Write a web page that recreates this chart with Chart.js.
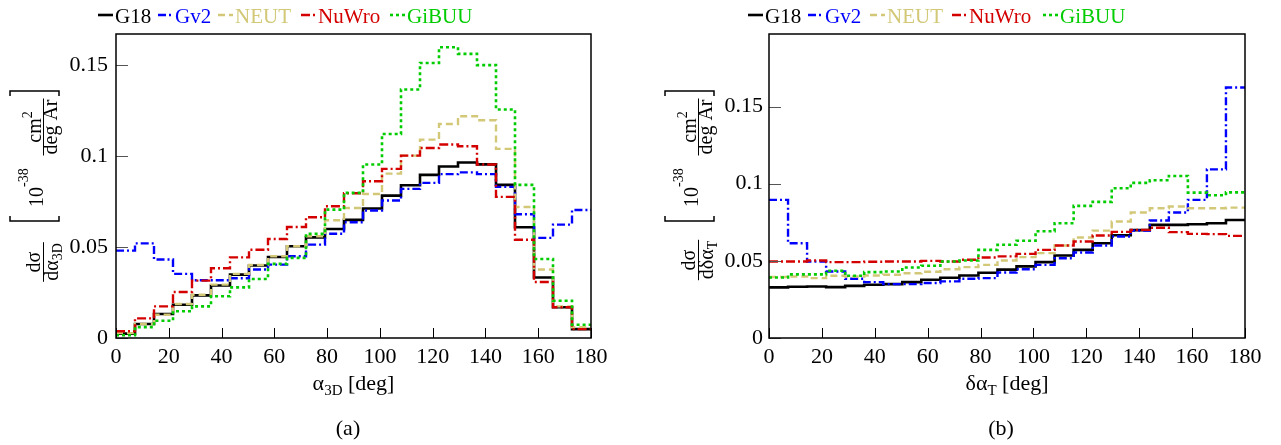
<!DOCTYPE html>
<html>
<head>
<meta charset="utf-8">
<script src="https://cdn.jsdelivr.net/npm/chart.js@4.4.1/dist/chart.umd.min.js"></script>
<style>
    html, body { margin: 0; padding: 0; background: #fff; }
    #wrap { position: relative; width: 1281px; height: 445px; overflow: hidden; }
    canvas { position: absolute; top: 0; }
</style>
</head>
<body>
<div id="wrap">
    <canvas id="chart-a" width="640" height="445" style="left:0"></canvas>
    <canvas id="chart-b" width="641" height="445" style="left:640px"></canvas>
</div>
<script>
// bin edges (deg), 25 bins of 7.2 deg
const binEdges = [0, 7.2, 14.4, 21.6, 28.8, 36, 43.2, 50.4, 57.6, 64.8, 72, 79.2, 86.4,
    93.6, 100.8, 108, 115.2, 122.4, 129.6, 136.8, 144, 151.2, 158.4, 165.6, 172.8, 180];
const xTicks = [0, 20, 40, 60, 80, 100, 120, 140, 160, 180];
const yTicks = [0, 0.05, 0.1, 0.15];
const generators = ["G18", "Gv2", "NEUT", "NuWro", "GiBUU"];

// panel (a): alpha_3D
const alpha3dG18 = [0.0024, 0.0077, 0.0132, 0.0183, 0.0234, 0.0288, 0.0348, 0.0398, 0.0445, 0.0504, 0.0553, 0.0599, 0.0649,
    0.0711, 0.0782, 0.0839, 0.0896, 0.0942, 0.0964, 0.0954, 0.0841, 0.0608, 0.0332, 0.0169, 0.0049];
const alpha3dGv2 = [0.0480, 0.0520, 0.0431, 0.0352, 0.0317, 0.0317, 0.0328, 0.0376, 0.0403, 0.0449, 0.0513, 0.0573, 0.0636,
    0.0700, 0.0755, 0.0819, 0.0852, 0.0900, 0.0910, 0.0900, 0.0830, 0.0680, 0.0550, 0.0623, 0.0703];
const alpha3dNEUT = [0.0027, 0.0077, 0.0128, 0.0187, 0.0238, 0.0293, 0.0352, 0.0401, 0.0449, 0.0504, 0.0559, 0.0647, 0.0714,
    0.0791, 0.0903, 0.1002, 0.1090, 0.1176, 0.1218, 0.1196, 0.1039, 0.0720, 0.0376, 0.0174, 0.0059];
const alpha3dNuWro = [0.0037, 0.0108, 0.0174, 0.0253, 0.0315, 0.0383, 0.0443, 0.0485, 0.0544, 0.0610, 0.0663, 0.0724, 0.0795,
    0.0861, 0.0929, 0.1002, 0.1044, 0.1063, 0.1053, 0.0953, 0.0775, 0.0540, 0.0308, 0.0169, 0.0049];
const alpha3dGiBUU = [0.0015, 0.0060, 0.0095, 0.0147, 0.0174, 0.0229, 0.0278, 0.0324, 0.0407, 0.0440, 0.0572, 0.0705, 0.0797,
    0.0953, 0.1121, 0.1365, 0.1511, 0.1597, 0.1561, 0.1499, 0.1255, 0.0841, 0.0434, 0.0205, 0.0073];

// panel (b): delta alpha_T
const dalphaTG18 = [0.0328, 0.0332, 0.0334, 0.0330, 0.0338, 0.0345, 0.0349, 0.0362, 0.0377, 0.0390, 0.0405, 0.0423, 0.0443,
    0.0464, 0.0492, 0.0535, 0.0571, 0.0614, 0.0666, 0.0699, 0.0733, 0.0733, 0.0737, 0.0744, 0.0765];
const dalphaTGv2 = [0.0895, 0.0614, 0.0496, 0.0431, 0.0384, 0.0362, 0.0349, 0.0349, 0.0356, 0.0367, 0.0384, 0.0388, 0.0424,
    0.0446, 0.0474, 0.0517, 0.0554, 0.0599, 0.0658, 0.0696, 0.0761, 0.0813, 0.0895, 0.1093, 0.1623];
const dalphaTNEUT = [0.0395, 0.0399, 0.0388, 0.0403, 0.0399, 0.0405, 0.0410, 0.0420, 0.0429, 0.0446, 0.0459, 0.0474, 0.0502,
    0.0524, 0.0550, 0.0599, 0.0651, 0.0696, 0.0755, 0.0813, 0.0841, 0.0852, 0.0841, 0.0841, 0.0845];
const dalphaTNuWro = [0.0496, 0.0496, 0.0502, 0.0492, 0.0492, 0.0494, 0.0496, 0.0496, 0.0500, 0.0496, 0.0507, 0.0522, 0.0529,
    0.0545, 0.0571, 0.0599, 0.0625, 0.0664, 0.0688, 0.0701, 0.0714, 0.0686, 0.0675, 0.0673, 0.0662];
const dalphaTGiBUU = [0.0392, 0.0412, 0.0412, 0.0436, 0.0403, 0.0427, 0.0431, 0.0457, 0.0468, 0.0496, 0.0502, 0.0571, 0.0604,
    0.0630, 0.0692, 0.0744, 0.0856, 0.0882, 0.0970, 0.1005, 0.1022, 0.1050, 0.0942, 0.0925, 0.0944];

const serif = "'Liberation Serif', 'Times New Roman', serif";
const lineStyles = {
    G18:   { color: "#000000", dash: [],           width: 2.6 },
    Gv2:   { color: "#0000ff", dash: [8, 3, 2, 3], width: 2.4 },
    NEUT:  { color: "#d2c878", dash: [7, 4],       width: 2.4 },
    NuWro: { color: "#d40000", dash: [9, 3, 2, 3], width: 2.4 },
    GiBUU: { color: "#00cc00", dash: [3, 3],       width: 2.6 }
};

function histPoints(values) {
    // step histogram: one point per left bin edge, plus the closing edge
    const pts = values.map((v, i) => ({ x: binEdges[i], y: v }));
    pts.push({ x: binEdges[binEdges.length - 1], y: values[values.length - 1] });
    return pts;
}

function rotText(ctx, text, size, bx, sy, align) {
    // text rotated -90deg, baseline at screen x = bx, anchored at screen y = sy
    ctx.save();
    ctx.translate(bx, sy);
    ctx.rotate(-Math.PI / 2);
    ctx.font = size + "px " + serif;
    ctx.textAlign = align;
    ctx.textBaseline = "alphabetic";
    ctx.fillText(text, 0, 0);
    ctx.restore();
}

function textWidth(ctx, text, size) {
    ctx.font = size + "px " + serif;
    return ctx.measureText(text).width;
}

function drawYTitle(ctx, ox, fracY, denMain, denSub) {
    ctx.fillStyle = "#000";
    ctx.strokeStyle = "#000";
    ctx.lineWidth = 1;
    // dsigma / d..
    rotText(ctx, "d\u03c3", 20, ox + 40, fracY, "center");
    const wMain = textWidth(ctx, denMain, 20), wSub = textWidth(ctx, denSub, 14);
    const start = fracY + (wMain + wSub) / 2;
    rotText(ctx, denMain, 20, ox + 58, start, "left");
    rotText(ctx, denSub, 14, ox + 62, start - wMain, "left");
    const half = Math.max(wMain + wSub, 24) / 2 + 1;
    ctx.beginPath();
    ctx.moveTo(ox + 43.5, fracY - half);
    ctx.lineTo(ox + 43.5, fracY + half);
    ctx.stroke();
    // brackets
    ctx.lineWidth = 1.5;
    ctx.beginPath();
    ctx.moveTo(ox + 10, 216); ctx.lineTo(ox + 10, 221); ctx.lineTo(ox + 59, 221); ctx.lineTo(ox + 59, 216);
    ctx.moveTo(ox + 10, 96); ctx.lineTo(ox + 10, 91); ctx.lineTo(ox + 59, 91); ctx.lineTo(ox + 59, 96);
    ctx.stroke();
    // 10^-38
    const w10 = textWidth(ctx, "10", 20);
    rotText(ctx, "10", 20, ox + 43, 207, "left");
    rotText(ctx, "-38", 14, ox + 28, 207 - w10, "left");
    // cm^2 / deg Ar
    const wcm = textWidth(ctx, "cm", 20), w2 = textWidth(ctx, "2", 14);
    const cmStart = 127 + (wcm + w2) / 2;
    rotText(ctx, "cm", 20, ox + 41, cmStart, "left");
    rotText(ctx, "2", 14, ox + 32, cmStart - wcm, "left");
    const wdeg = textWidth(ctx, "deg Ar", 20);
    ctx.lineWidth = 1;
    ctx.beginPath();
    ctx.moveTo(ox + 43.5, 127 - wdeg / 2 - 1);
    ctx.lineTo(ox + 43.5, 127 + wdeg / 2 + 1);
    ctx.stroke();
    rotText(ctx, "deg Ar", 20, ox + 57, 127, "center");
}

function decorPlugin(p) {
    return {
        id: "decor",
        afterDraw(chart) {
            const ctx = chart.ctx;
            const a = chart.chartArea;
            const xs = chart.scales.x, ys = chart.scales.y;
            ctx.save();
            // inward tick marks
            ctx.lineWidth = 1;
            ctx.strokeStyle = "#000";
            ctx.beginPath();
            xTicks.forEach(v => {
                const px = Math.round(xs.getPixelForValue(v)) + 0.5;
                ctx.moveTo(px, a.bottom);
                ctx.lineTo(px, a.bottom - 10);
            });
            ctx.stroke();
            ctx.strokeStyle = "#555";
            ctx.beginPath();
            yTicks.forEach(v => {
                const py = Math.round(ys.getPixelForValue(v)) + 0.5;
                ctx.moveTo(a.left, py);
                ctx.lineTo(a.left + 12, py);
            });
            ctx.stroke();
            // frame
            ctx.strokeStyle = "#000";
            ctx.lineWidth = 1.5;
            ctx.strokeRect(a.left, a.top, a.right - a.left, a.bottom - a.top);

            // legend
            generators.forEach((g, i) => {
                const st = lineStyles[g];
                const lx = p.legendX[i];
                ctx.strokeStyle = st.color;
                ctx.lineWidth = st.width;
                ctx.setLineDash(st.dash);
                ctx.beginPath();
                ctx.moveTo(lx, 15);
                ctx.lineTo(lx + 15, 15);
                ctx.stroke();
                ctx.setLineDash([]);
                ctx.fillStyle = st.color;
                ctx.font = "21px " + serif;
                ctx.textAlign = "left";
                ctx.textBaseline = "alphabetic";
                ctx.fillText(g, lx + 17, 23);
            });

            // x title with subscript
            ctx.fillStyle = "#000";
            const parts = [[p.xMain, 22, 0], [p.xSub, 15, 5], [" [deg]", 22, 0]];
            let total = 0;
            parts.forEach(q => { total += textWidth(ctx, q[0], q[1]); });
            let cx = (a.left + a.right) / 2 - total / 2;
            ctx.textAlign = "left";
            parts.forEach(q => {
                ctx.font = q[1] + "px " + serif;
                ctx.fillText(q[0], cx, 390 + q[2]);
                cx += ctx.measureText(q[0]).width;
            });

            // caption
            ctx.font = "22px " + serif;
            ctx.textAlign = "center";
            ctx.fillText(p.caption, p.captionX, 435);

            // y title
            drawYTitle(ctx, p.titleX, p.fracY, p.yDenMain, p.yDenSub);
            ctx.restore();
        }
    };
}

function makePanel(canvasId, series, p) {
    const datasets = generators.map((g, i) => ({
        label: g,
        data: histPoints(series[i]),
        borderColor: lineStyles[g].color,
        borderDash: lineStyles[g].dash,
        borderWidth: lineStyles[g].width,
        stepped: true,
        pointRadius: 0,
        fill: false,
        order: generators.length - 1 - i
    }));

    return new Chart(document.getElementById(canvasId).getContext("2d"), {
        type: "line",
        data: { datasets },
        options: {
            responsive: false,
            maintainAspectRatio: false,
            animation: false,
            layout: { padding: p.padding },
            plugins: { legend: { display: false }, tooltip: { enabled: false } },
            scales: {
                x: {
                    type: "linear",
                    min: 0,
                    max: 180,
                    grid: { display: false, drawTicks: false },
                    border: { display: false },
                    ticks: {
                        font: { family: serif, size: 22 },
                        color: "#000",
                        padding: 6,
                        maxRotation: 0,
                        autoSkip: false,
                        callback: v => String(v)
                    },
                    afterBuildTicks: s => { s.ticks = xTicks.map(v => ({ value: v })); },
                    afterFit: s => { s.height = 40; }
                },
                y: {
                    type: "linear",
                    min: 0,
                    max: p.yMax,
                    grid: { display: false, drawTicks: false },
                    border: { display: false },
                    ticks: {
                        font: { family: serif, size: 22 },
                        color: "#000",
                        padding: p.yPad,
                        autoSkip: false,
                        callback: v => String(v)
                    },
                    afterBuildTicks: s => { s.ticks = yTicks.map(v => ({ value: v })); },
                    afterFit: s => { s.width = 60; }
                }
            }
        },
        plugins: [decorPlugin(p)]
    });
}

function drawAll() {
    makePanel("chart-a", [alpha3dG18, alpha3dGv2, alpha3dNEUT, alpha3dNuWro, alpha3dGiBUU], {
        yMax: 0.167,
        padding: { left: 56, right: 49, top: 34, bottom: 67 },
        yPad: 8,
        legendX: [98, 158, 218, 301, 390],
        xMain: "\u03b1",
        xSub: "3D",
        caption: "(a)",
        captionX: 348,
        titleX: 0,
        fracY: 262,
        yDenMain: "d\u03b1",
        yDenSub: "3D"
    });

    makePanel("chart-b", [dalphaTG18, dalphaTGv2, dalphaTNEUT, dalphaTNuWro, dalphaTGiBUU], {
        yMax: 0.197,
        padding: { left: 69, right: 36, top: 34, bottom: 67 },
        yPad: 6,
        legendX: [108, 168, 230, 312, 403],
        xMain: "\u03b4\u03b1",
        xSub: "T",
        caption: "(b)",
        captionX: 361,
        titleX: 15,
        fracY: 260,
        yDenMain: "d\u03b4\u03b1",
        yDenSub: "T"
    });
}

document.fonts.load("22px 'Liberation Serif'").then(drawAll, drawAll);
</script>
</body>
</html>
